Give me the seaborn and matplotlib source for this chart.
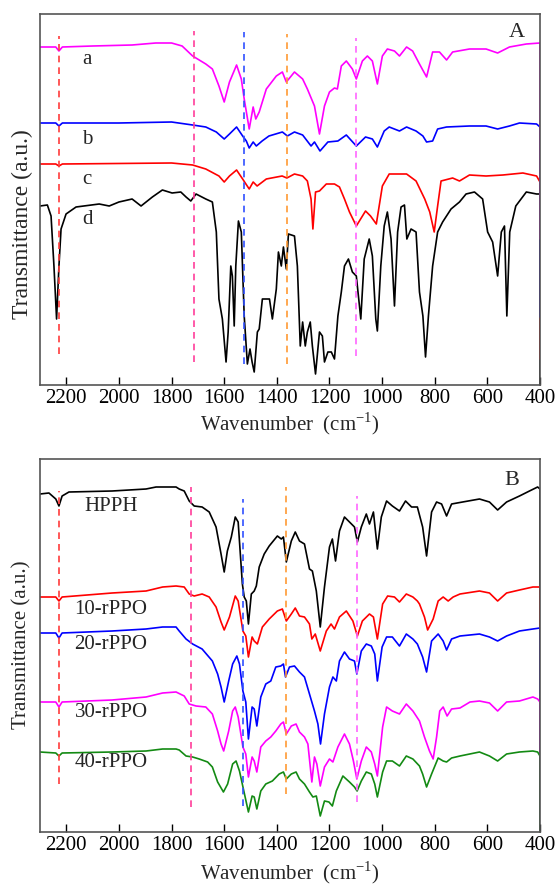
import matplotlib
matplotlib.use("Agg")
import matplotlib.pyplot as plt
import seaborn as sns
import pandas as pd

# ---------------- Panel A data (wavenumber cm^-1, transmittance a.u.) ----------------
a_wn = [2300,2240,2228,2215,2100,1950,1860,1800,1760,1720,1670,1645,1620,1600,1580,1553,1535,1524,1505,1490,1480,1467,1440,1402,1379,1364,1333,1302,1284,1257,1238,1219,1200,1181,1170,1155,1136,1113,1098,1075,1056,1037,1018,999,980,953,934,907,884,858,831,808,782,755,732,668,605,561,516,452,400,400]
a_val = [338,338,334,338,339,340,342,342,339,329,321,316,299,283,303,320,306,286,256,278,266,273,296,309,313,303,313,306,296,279,251,279,293,297,296,319,324,316,306,324,329,324,301,329,336,334,329,338,334,321,308,333,333,325,333,336,336,332,338,341,342,146]

b_wn = [2300,2240,2228,2215,2000,1800,1720,1670,1630,1600,1580,1553,1530,1516,1505,1490,1478,1456,1430,1379,1360,1333,1302,1270,1257,1236,1206,1168,1136,1098,1063,1037,1018,992,973,934,907,871,845,831,808,789,755,668,605,561,516,478,413,400,400]
b_val = [262,262,259,262,262,263,260,258,253,246,251,258,249,244,237,243,239,244,249,253,249,253,250,239,243,234,243,244,250,239,248,246,238,254,258,254,258,254,249,243,244,256,258,259,259,256,259,262,261,258,68]

c_wn = [2300,2240,2228,2215,1800,1720,1670,1620,1600,1580,1553,1530,1505,1490,1475,1440,1380,1362,1333,1302,1284,1270,1263,1253,1238,1212,1181,1162,1143,1124,1098,1063,1044,1022,999,973,907,871,838,819,802,789,776,732,706,668,605,541,465,413,400,400]
c_val = [221,221,219,221,222,220,216,209,203,209,215,206,196,203,199,206,209,207,211,209,204,186,156,193,194,201,201,198,186,173,159,174,169,161,199,211,211,204,186,173,153,179,204,207,204,210,209,210,212,209,203,26]

d_wn = [2300,2272,2258,2247,2237,2228,2220,2201,2163,2075,
        2037,2000,1950,1916,1873,1835,1798,1765,1745,1727,
        1707,1670,1645,1630,1620,1607,1593,1585,1575,1569,
        1562,1556,1546,1535,1524,1512,1502,1494,1486,1474,
        1467,1455,1428,1417,1402,1394,1383,1375,1364,1356,
        1333,1322,1311,1302,1292,1284,1273,1265,1253,1238,
        1227,1219,1206,1193,1181,1168,1155,1143,1128,1113,
        1098,1086,1081,1068,1049,1037,1024,1018,1005,992,
        980,966,953,941,928,915,906,890,871,858,
        845,835,824,808,789,770,738,706,681,649,
        618,599,580,561,547,535,526,515,492,452,
        413,400,400]
d_val = [179,180,169,119,66,119,156,171,178,181,
         179,183,186,179,188,195,192,193,188,184,
         191,186,183,153,86,66,23,53,119,109,
         59,119,164,153,69,21,36,23,13,53,
         56,86,86,66,96,133,119,138,116,151,
         149,119,39,63,39,53,63,39,11,53,
         49,23,33,33,26,69,93,119,126,113,
         109,79,66,126,146,129,66,54,119,159,
         173,146,79,153,178,180,146,156,153,93,
         69,28,69,119,153,163,176,183,191,193,
         186,153,143,109,153,159,69,153,179,193,
         191,191,0]

# ---------------- Panel B data ----------------
hpph_wn = [2300,2266,2240,2228,2216,2190,2026,1897,1859,1783,
           1771,1752,1733,1714,1684,1657,1631,1612,1600,1588,
           1573,1558,1547,1531,1524,1516,1508,1497,1486,1478,
           1467,1448,1429,1398,1383,1375,1364,1345,1330,1314,
           1295,1276,1265,1250,1235,1219,1200,1189,1177,1162,
           1143,1124,1105,1094,1079,1060,1048,1033,1018,1003,
           983,961,934,911,888,866,846,831,812,793,
           774,755,736,694,630,592,561,527,478,440,
           409,400,400]
hpph_val = [338,339,333,326,336,340,341,343,345,345,
            343,341,331,326,325,320,305,278,260,281,
            295,315,310,248,235,231,208,238,241,246,
            265,278,286,296,293,295,270,291,300,291,
            288,263,261,241,205,245,285,293,271,301,
            315,310,305,290,305,318,308,320,283,315,
            331,326,321,331,325,325,305,276,320,330,
            328,316,328,330,333,330,322,330,336,341,
            345,343,0]

r10_wn = [2300,2240,2228,2216,2026,1897,1834,1783,1752,1733,
          1714,1684,1657,1631,1612,1600,1580,1558,1547,1529,
          1518,1508,1494,1486,1474,1455,1429,1398,1379,1364,
          1345,1330,1314,1295,1276,1267,1254,1235,1212,1194,
          1181,1162,1136,1111,1094,1075,1048,1033,1018,998,
          979,953,934,908,883,866,858,839,827,806,
          787,768,749,730,704,630,592,561,527,478,
          427,400,400]
r10_val = [235,235,231,235,239,241,245,246,245,238,
           236,238,235,225,210,202,215,236,231,201,
           196,175,195,191,188,205,213,221,223,211,
           218,224,216,215,208,193,198,181,201,208,
           203,215,221,211,196,211,218,215,193,228,
           236,235,230,238,235,231,228,215,202,213,
           231,235,231,235,238,241,239,231,239,242,
           245,245,0]

r20_wn = [2300,2240,2228,2216,2026,1897,1834,1783,1771,1745,
          1720,1684,1645,1625,1612,1600,1583,1568,1552,1542,
          1529,1518,1508,1494,1486,1476,1461,1442,1423,1404,
          1385,1375,1367,1352,1333,1314,1295,1276,1257,1244,
          1234,1219,1200,1187,1174,1162,1143,1124,1105,1096,
          1079,1060,1041,1028,1018,1000,983,961,934,908,
          883,866,846,831,812,787,768,755,736,704,
          630,592,561,527,478,427,400,400]
r20_val = [199,199,194,199,201,203,205,205,201,193,
           188,183,171,158,145,130,151,168,176,168,
           141,130,93,125,123,106,135,148,151,165,
           166,168,155,165,166,160,155,138,121,108,
           88,118,145,155,151,171,180,173,171,158,
           181,188,186,178,151,185,195,195,186,198,
           193,188,175,160,191,198,191,182,193,196,
           198,195,191,196,201,203,204,0]

r30_wn = [2300,2240,2228,2216,2026,1897,1834,1783,1752,1733,
          1707,1670,1645,1625,1612,1602,1583,1568,1558,1547,
          1529,1518,1508,1494,1486,1476,1461,1442,1423,1404,
          1385,1375,1364,1345,1327,1314,1295,1282,1267,1257,
          1248,1235,1219,1200,1187,1168,1143,1124,1109,1096,
          1079,1060,1041,1028,1018,998,983,961,934,908,
          883,858,839,820,806,793,781,768,753,736,
          704,666,630,592,561,527,478,427,409,400,400]
r30_val = [130,130,125,130,132,135,139,140,136,128,
           126,125,118,101,88,81,101,121,125,115,
           85,78,55,75,71,60,85,91,95,101,
           108,110,98,106,108,100,95,88,50,75,
           68,46,65,73,70,85,98,88,71,53,
           71,85,80,68,56,105,125,121,118,128,
           121,111,95,81,73,95,121,125,116,123,
           124,130,131,129,121,130,131,135,133,130,0]

r40_wn = [2300,2240,2228,2216,2026,1897,1834,1783,1771,1745,
          1720,1695,1663,1645,1625,1603,1587,1568,1555,1542,
          1523,1508,1494,1486,1476,1461,1442,1417,1391,1375,
          1364,1345,1327,1314,1295,1276,1263,1250,1235,1219,
          1202,1189,1174,1149,1124,1105,1095,1079,1060,1041,
          1028,1018,998,983,961,934,908,883,858,846,
          831,812,787,768,755,736,704,630,592,561,
          527,478,427,409,400,400]
r40_val = [80,79,76,79,80,81,83,83,82,76,
           75,73,70,65,50,40,48,68,71,61,
           38,20,36,35,23,41,48,51,58,60,
           53,58,60,53,48,40,35,36,16,31,
           30,26,41,56,50,45,41,51,60,58,
           48,35,60,71,71,66,76,73,66,58,
           45,58,74,71,70,74,76,80,76,71,
           78,80,81,80,76,0]

# dashed marker lines (wavenumber, lower, upper)
dashA_wn = [2228, 1714, 1524, 1360, 1098]
dashA_lo = [31, 23, 21, 21, 29]
dashA_hi = [349, 354, 353, 351, 347]
dashB_wn = [2228, 1725, 1527, 1367, 1094]
dashB_lo = [48, 25, 26, 38, 30]
dashB_hi = [341, 345, 333, 345, 336]
dash_colors = ['#ff3b3b', '#ff3d9a', '#3050ff', '#ff9a33', '#ff66ff']

labelsA = ['a', 'b', 'c', 'd']
labelsA_y = [326, 246, 206, 166]
labelsB = ['HPPH', '10-rPPO', '20-rPPO', '30-rPPO', '40-rPPO']
labelsB_y = [326, 224, 188, 120, 70]

xticks = [2200, 2000, 1800, 1600, 1400, 1200, 1000, 800, 600, 400]

sns.set_theme(style="white")
plt.rcParams['font.family'] = ['Liberation Serif', 'DejaVu Serif']
plt.rcParams['mathtext.fontset'] = 'custom'
plt.rcParams['mathtext.rm'] = 'Liberation Serif'

fig = plt.figure(figsize=(5.55, 8.87), dpi=100)
axA = fig.add_axes([40/555, (887-386)/887, 500/555, 371/887])
axB = fig.add_axes([40/555, (887-833)/887, 500/555, 373/887])

def draw(ax, wn, val, color):
    df = pd.DataFrame({'wn': wn, 'val': val})
    sns.lineplot(data=df, x='wn', y='val', ax=ax, color=color, lw=1.2,
                 sort=False, estimator=None)

# Panel A: d, c, b, a (a on top)
draw(axA, d_wn, d_val, 'black')
draw(axA, c_wn, c_val, '#ff0000')
draw(axA, b_wn, b_val, '#0000ff')
draw(axA, a_wn, a_val, '#ff00ff')
for w, lo, hi, col in zip(dashA_wn, dashA_lo, dashA_hi, dash_colors):
    axA.plot([w, w], [lo, hi], ls=(0, (4, 3)), color=col, lw=1.2)

# Panel B
draw(axB, hpph_wn, hpph_val, 'black')
draw(axB, r10_wn, r10_val, '#ff0000')
draw(axB, r20_wn, r20_val, '#0000ff')
draw(axB, r30_wn, r30_val, '#ff00ff')
draw(axB, r40_wn, r40_val, '#138a13')
for w, lo, hi, col in zip(dashB_wn, dashB_lo, dashB_hi, dash_colors):
    axB.plot([w, w], [lo, hi], ls=(0, (4, 3)), color=col, lw=1.2)

for ax, top in ((axA, 371), (axB, 373)):
    ax.set_xlim(2300, 400)
    ax.set_ylim(0, top)
    ax.set_xticks(xticks)
    ax.set_xticklabels([str(t) for t in xticks])
    ax.set_yticks([])
    ax.tick_params(axis='x', direction='in', length=6, width=1.0, pad=2,
                   labelsize=15, colors='black', bottom=True)
    for s in ax.spines.values():
        s.set_color('#555555')
        s.set_linewidth(1.2)
    ax.set_xlabel('Wavenumber  (cm$^{-1}$)', fontsize=15)
    ax.xaxis.label.set_va('center')

axA.set_ylabel('Transmittance (a.u.)', fontsize=17)
axB.set_ylabel('Transmittance (a.u.)', fontsize=15)
axA.yaxis.label.set_va('center')
axB.yaxis.label.set_va('center')
axA.yaxis.set_label_coords(-0.036, 0.437)
axB.yaxis.set_label_coords(-0.036, 0.504)
axA.xaxis.set_label_coords(0.5, -0.102)
axB.xaxis.set_label_coords(0.5, -0.107)

axA.text(0.954, 0.954, 'A', transform=axA.transAxes, ha='center', va='center', fontsize=16)
axB.text(0.944, 0.944, 'B', transform=axB.transAxes, ha='center', va='center', fontsize=16)

for lab, y in zip(labelsA, labelsA_y):
    axA.text(2121, y, lab, ha='center', va='center', fontsize=15)
for lab, y in zip(labelsB, labelsB_y):
    axB.text(2030, y, lab, ha='center', va='center', fontsize=15)

fig.savefig('out.png', dpi=100)
